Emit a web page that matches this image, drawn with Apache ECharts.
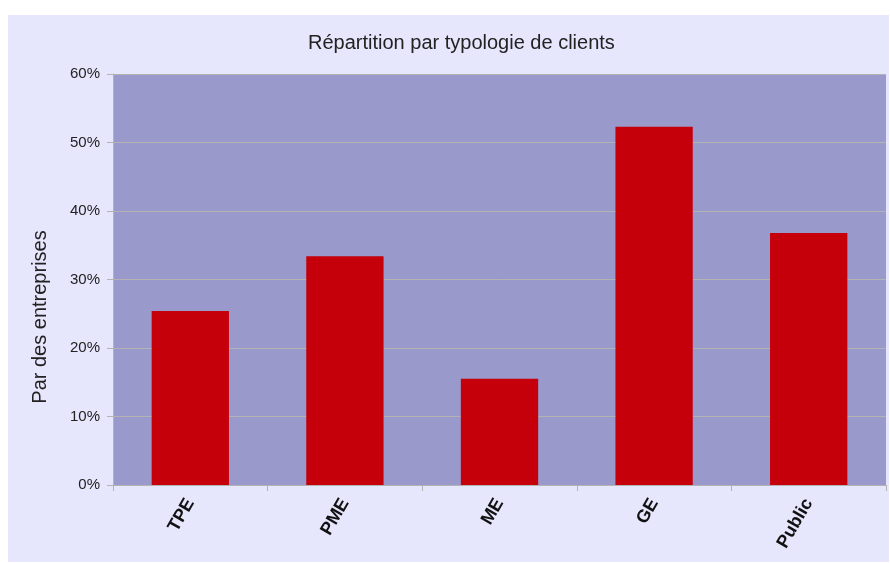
<!DOCTYPE html>
<html>
<head>
<meta charset="utf-8">
<script src="https://cdn.jsdelivr.net/npm/echarts@6/dist/echarts.min.js"></script>
<style>
  html, body { margin: 0; padding: 0; background: #fff; }
  #chart { width: 890px; height: 563px; }
</style>
</head>
<body>
<div id="chart"></div>
<script>
// catégories et valeurs (en %)
var categories = ['TPE', 'PME', 'ME', 'GE', 'Public'];
var values = [25.4, 33.4, 15.5, 52.3, 36.8];
var yTicks = [0, 10, 20, 30, 40, 50, 60];
var yName = 'Par des entreprises';

var chart = echarts.init(document.getElementById('chart'), null, { renderer: 'canvas' });

var option = {
  backgroundColor: '#ffffff',
  animation: false,
  textStyle: { fontFamily: 'Liberation Sans' },
  graphic: [{
    type: 'rect',
    z: -10,
    silent: true,
    shape: { x: 8, y: 15, width: 881, height: 547 },
    style: { fill: '#E6E6FD' }
  }, {
    // titre de l'axe vertical, décalé vers le bas comme dans l'original
    type: 'text',
    silent: true,
    x: 40,
    y: 317,
    rotation: Math.PI / 2,
    style: {
      text: yName,
      fontFamily: 'Liberation Sans',
      fontSize: 20,
      fill: '#222',
      textAlign: 'center',
      textVerticalAlign: 'middle'
    }
  }],
  title: {
    text: 'Répartition par typologie de clients',
    left: 303,
    top: 28,
    textStyle: {
      fontFamily: 'Liberation Sans',
      fontSize: 20,
      fontWeight: 'normal',
      color: '#222'
    }
  },
  grid: {
    left: 113,
    right: 4,
    top: 74,
    bottom: 78,
    show: true,
    backgroundColor: '#9999CC',
    borderWidth: 0
  },
  xAxis: {
    type: 'category',
    data: categories,
    axisLine: { lineStyle: { color: '#B3B3B3', width: 1 } },
    axisTick: { show: true, length: 6, lineStyle: { color: '#B3B3B3' } },
    axisLabel: {
      rotate: 60,
      margin: 15,
      fontSize: 18,
      fontWeight: 'bold',
      color: '#111'
    }
  },
  yAxis: {
    type: 'value',
    min: yTicks[0],
    max: yTicks[yTicks.length - 1],
    interval: 10,
    axisLine: { show: true, lineStyle: { color: '#B3B3B3' } },
    axisTick: { show: true, length: 6, lineStyle: { color: '#B3B3B3' } },
    axisLabel: {
      formatter: '{value}%',
      fontSize: 15,
      margin: 13,
      color: '#222'
    },
    splitLine: { lineStyle: { color: '#B3B3B3', width: 1 } }
  },
  series: [{
    type: 'bar',
    data: values,
    barWidth: '50%',
    itemStyle: { color: '#C5000A' }
  }]
};

chart.setOption(option);
</script>
</body>
</html>
